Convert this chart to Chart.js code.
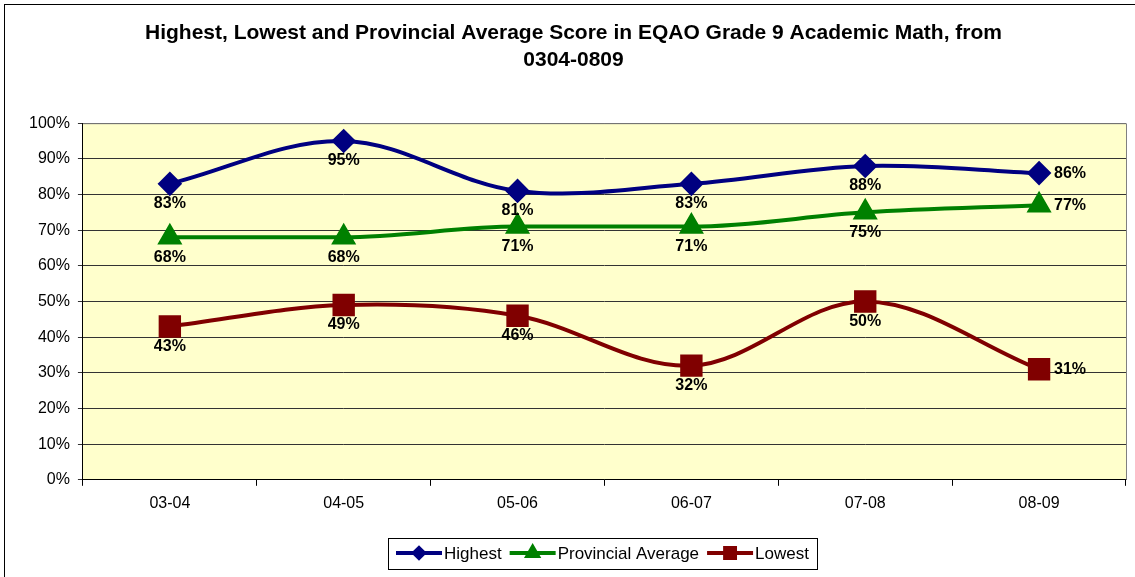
<!DOCTYPE html>
<html>
<head>
<meta charset="utf-8">
<script src="https://cdn.jsdelivr.net/npm/chart.js@4/dist/chart.umd.min.js"></script>
<style>
  html, body { margin: 0; padding: 0; background: #fff; }
  #wrap { width: 1135px; height: 577px; }
</style>
</head>
<body>
<div id="wrap"><canvas id="myChart" width="1135" height="577"></canvas></div>
<script>
const years = ['03-04', '04-05', '05-06', '06-07', '07-08', '08-09'];
const highest = [83, 95, 81, 83, 88, 86];
const provincial = [68, 68, 71, 71, 75, 77];
const lowest = [43, 49, 46, 32, 50, 31];
const titleLines = ['Highest, Lowest and Provincial Average Score in EQAO Grade 9 Academic Math, from', '0304-0809'];

const FONT = '"Liberation Sans", Arial, sans-serif';

// value labels next to each marker: under the point, last one to the right
const valueLabels = {
  id: 'valueLabels',
  afterDatasetsDraw(chart) {
    const { ctx } = chart;
    ctx.save();
    ctx.font = 'bold 16px ' + FONT;
    ctx.fillStyle = '#000';
    ctx.textBaseline = 'middle';
    chart.data.datasets.forEach((ds, i) => {
      const meta = chart.getDatasetMeta(i);
      meta.data.forEach((pt, j) => {
        const txt = ds.data[j] + '%';
        if (j === ds.data.length - 1) {
          ctx.textAlign = 'left';
          ctx.fillText(txt, pt.x + 15, pt.y);
        } else {
          ctx.textAlign = 'center';
          ctx.fillText(txt, pt.x, pt.y + 20);
        }
      });
    });
    ctx.restore();
  }
};

// frame, plot background and Excel-like legend box
const decor = {
  id: 'decor',
  beforeDraw(chart) {
    const { ctx, chartArea: a } = chart;
    ctx.save();
    ctx.fillStyle = '#FFFFCC';
    ctx.fillRect(a.left, a.top, a.right - a.left, a.bottom - a.top);
    ctx.restore();
  },
  afterDraw(chart) {
    const { ctx, chartArea: a } = chart;
    ctx.save();
    // plot border (top/right grey)
    ctx.strokeStyle = '#808080';
    ctx.lineWidth = 1;
    ctx.beginPath();
    ctx.moveTo(a.left, a.top + 0.5);
    ctx.lineTo(a.right + 0.5, a.top + 0.5);
    ctx.lineTo(a.right + 0.5, a.bottom);
    ctx.stroke();
    // outer frame
    ctx.strokeStyle = '#000';
    ctx.strokeRect(4.5, 4.5, 1140, 600);

    // legend
    ctx.font = '17px ' + FONT;
    ctx.textBaseline = 'middle';
    const cy = 553;
    const lineLen = 46, gap = 2, itemGap = 8;
    const items = chart.data.datasets.map(ds => ({ ds, w: lineLen + gap + ctx.measureText(ds.label).width }));
    const total = items.reduce((s, it) => s + it.w, 0) + itemGap * (items.length - 1);
    const boxW = Math.round(total + 16);
    const bx = Math.round(602 - boxW / 2);
    ctx.fillStyle = '#fff';
    ctx.fillRect(bx, 538, boxW, 31);
    ctx.strokeStyle = '#000';
    ctx.strokeRect(bx + 0.5, 538.5, boxW, 31);
    let x = bx + 8;
    items.forEach(it => {
      const c = it.ds.borderColor;
      ctx.strokeStyle = c;
      ctx.lineWidth = 4;
      ctx.beginPath();
      ctx.moveTo(x, cy);
      ctx.lineTo(x + lineLen, cy);
      ctx.stroke();
      Chart.helpers.drawPoint(ctx, { pointStyle: it.ds.pointStyle, radius: it.ds.legendRadius, borderWidth: 1 }, x + lineLen / 2, cy);
      ctx.fillStyle = c;
      ctx.fill();
      ctx.fillStyle = '#000';
      ctx.textAlign = 'left';
      ctx.fillText(it.ds.label, x + lineLen + gap, cy + 1);
      x += it.w + itemGap;
    });
    ctx.restore();
  }
};

const ctx = document.getElementById('myChart').getContext('2d');
new Chart(ctx, {
  type: 'line',
  data: {
    labels: years,
    datasets: [
      {
        label: 'Highest',
        data: highest,
        borderColor: '#000080',
        backgroundColor: '#000080',
        pointStyle: 'rectRot',
        pointRadius: 9.5,
        legendRadius: 5,
        borderWidth: 4,
        tension: 0.35
      },
      {
        label: 'Provincial Average',
        data: provincial,
        borderColor: '#008000',
        backgroundColor: '#008000',
        pointStyle: 'triangle',
        pointRadius: 10.5,
        legendRadius: 6,
        borderWidth: 4,
        cubicInterpolationMode: 'monotone'
      },
      {
        label: 'Lowest',
        data: lowest,
        borderColor: '#800000',
        backgroundColor: '#800000',
        pointStyle: 'rect',
        pointRadius: 13,
        legendRadius: 7,
        borderWidth: 4,
        tension: 0.35
      }
    ]
  },
  options: {
    responsive: false,
    animation: false,
    devicePixelRatio: 1,
    layout: { autoPadding: false, padding: { left: 21, right: 9, top: 0, bottom: 56 } },
    elements: { point: { borderWidth: 1 } },
    scales: {
      x: {
        offset: true,
        afterFit(scale) {
          scale.paddingLeft = 0;
          scale.paddingRight = 0;
        },
        grid: {
          offset: true,
          drawOnChartArea: false,
          color: '#000',
          tickLength: 6
        },
        border: { color: '#000', width: 1 },
        ticks: { color: '#000', font: { family: FONT, size: 16 }, padding: 8 }
      },
      y: {
        min: 0,
        max: 100,
        ticks: {
          stepSize: 10,
          color: '#000',
          font: { family: FONT, size: 16 },
          padding: 8,
          callback: v => v + '%'
        },
        grid: { color: '#333', tickLength: 5 },
        border: { color: '#000', width: 1 }
      }
    },
    plugins: {
      legend: { display: false },
      tooltip: { enabled: false },
      title: {
        display: true,
        text: titleLines,
        color: '#000',
        font: { family: FONT, size: 21, weight: 'bold', lineHeight: 1.29 },
        padding: { top: 20, bottom: 49 }
      }
    }
  },
  plugins: [decor, valueLabels]
});
</script>
</body>
</html>
